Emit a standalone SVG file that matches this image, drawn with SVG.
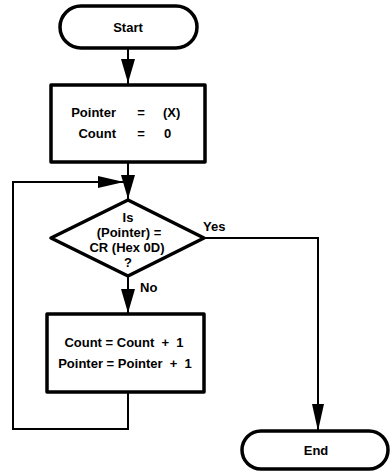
<svg xmlns="http://www.w3.org/2000/svg" width="391" height="472" viewBox="0 0 391 472">
<style>
  .node { fill: #fff; stroke: #000; stroke-width: 3.5; stroke-linejoin: round; }
  .conn { fill: none; stroke: #000; stroke-width: 2; }
  .head { fill: #000; stroke: none; }
  text { font-family: "Liberation Sans", Arial, sans-serif; font-weight: bold; font-size: 13px; fill: #000; }
  .mid { text-anchor: middle; }
  .end { text-anchor: end; }
</style>
<rect width="391" height="472" fill="#fff"/>
<g id="connectors">
  <line class="conn" x1="128" y1="48" x2="128" y2="85"/>
  <polygon class="head" points="121,59 135,59 128,83"/>
  <line class="conn" x1="128" y1="162" x2="128" y2="200"/>
  <polygon class="head" points="121,175 135,175 128,199"/>
  <polyline class="conn" points="128,392 128,429 13,429 13,182 126,182"/>
  <polygon class="head" points="98,176 98,188 124,182"/>
  <line class="conn" x1="128" y1="276" x2="128" y2="314"/>
  <polygon class="head" points="121,289 135,289 128,313"/>
  <polyline class="conn" points="204,238 318,238 318,431"/>
  <polygon class="head" points="312,404 324,404 318,431"/>
  <text x="203" y="231">Yes</text>
  <text x="140" y="292">No</text>
</g>
<g id="start">
  <rect class="node" x="60" y="6" width="137" height="42" rx="21"/>
  <text class="mid" x="128" y="32">Start</text>
</g>
<g id="init">
  <rect class="node" x="51" y="85" width="154" height="77"/>
  <text class="end" x="116" y="117">Pointer</text>
  <text class="mid" x="141" y="117">=</text>
  <text x="163" y="117">(X)</text>
  <text class="end" x="116" y="138">Count</text>
  <text class="mid" x="141" y="138">=</text>
  <text x="164" y="138">0</text>
</g>
<g id="decision">
  <polygon class="node" stroke-width="4" points="128,200 204,238 128,276 51,238"/>
  <text class="mid" x="128" y="222">Is</text>
  <text class="mid" x="129" y="237">(Pointer) =</text>
  <text class="mid" x="127" y="252">CR (Hex 0D)</text>
  <text class="mid" x="128" y="267">?</text>
</g>
<g id="increment">
  <rect class="node" x="47" y="314" width="157" height="78"/>
  <text class="mid" x="124" y="347" xml:space="preserve" style="white-space:pre">Count = Count  +  1</text>
  <text class="mid" x="125" y="368" xml:space="preserve" style="white-space:pre">Pointer = Pointer  +  1</text>
</g>
<g id="end">
  <rect class="node" x="242" y="431" width="146" height="38" rx="19"/>
  <text class="mid" x="316" y="455">End</text>
</g>
</svg>
